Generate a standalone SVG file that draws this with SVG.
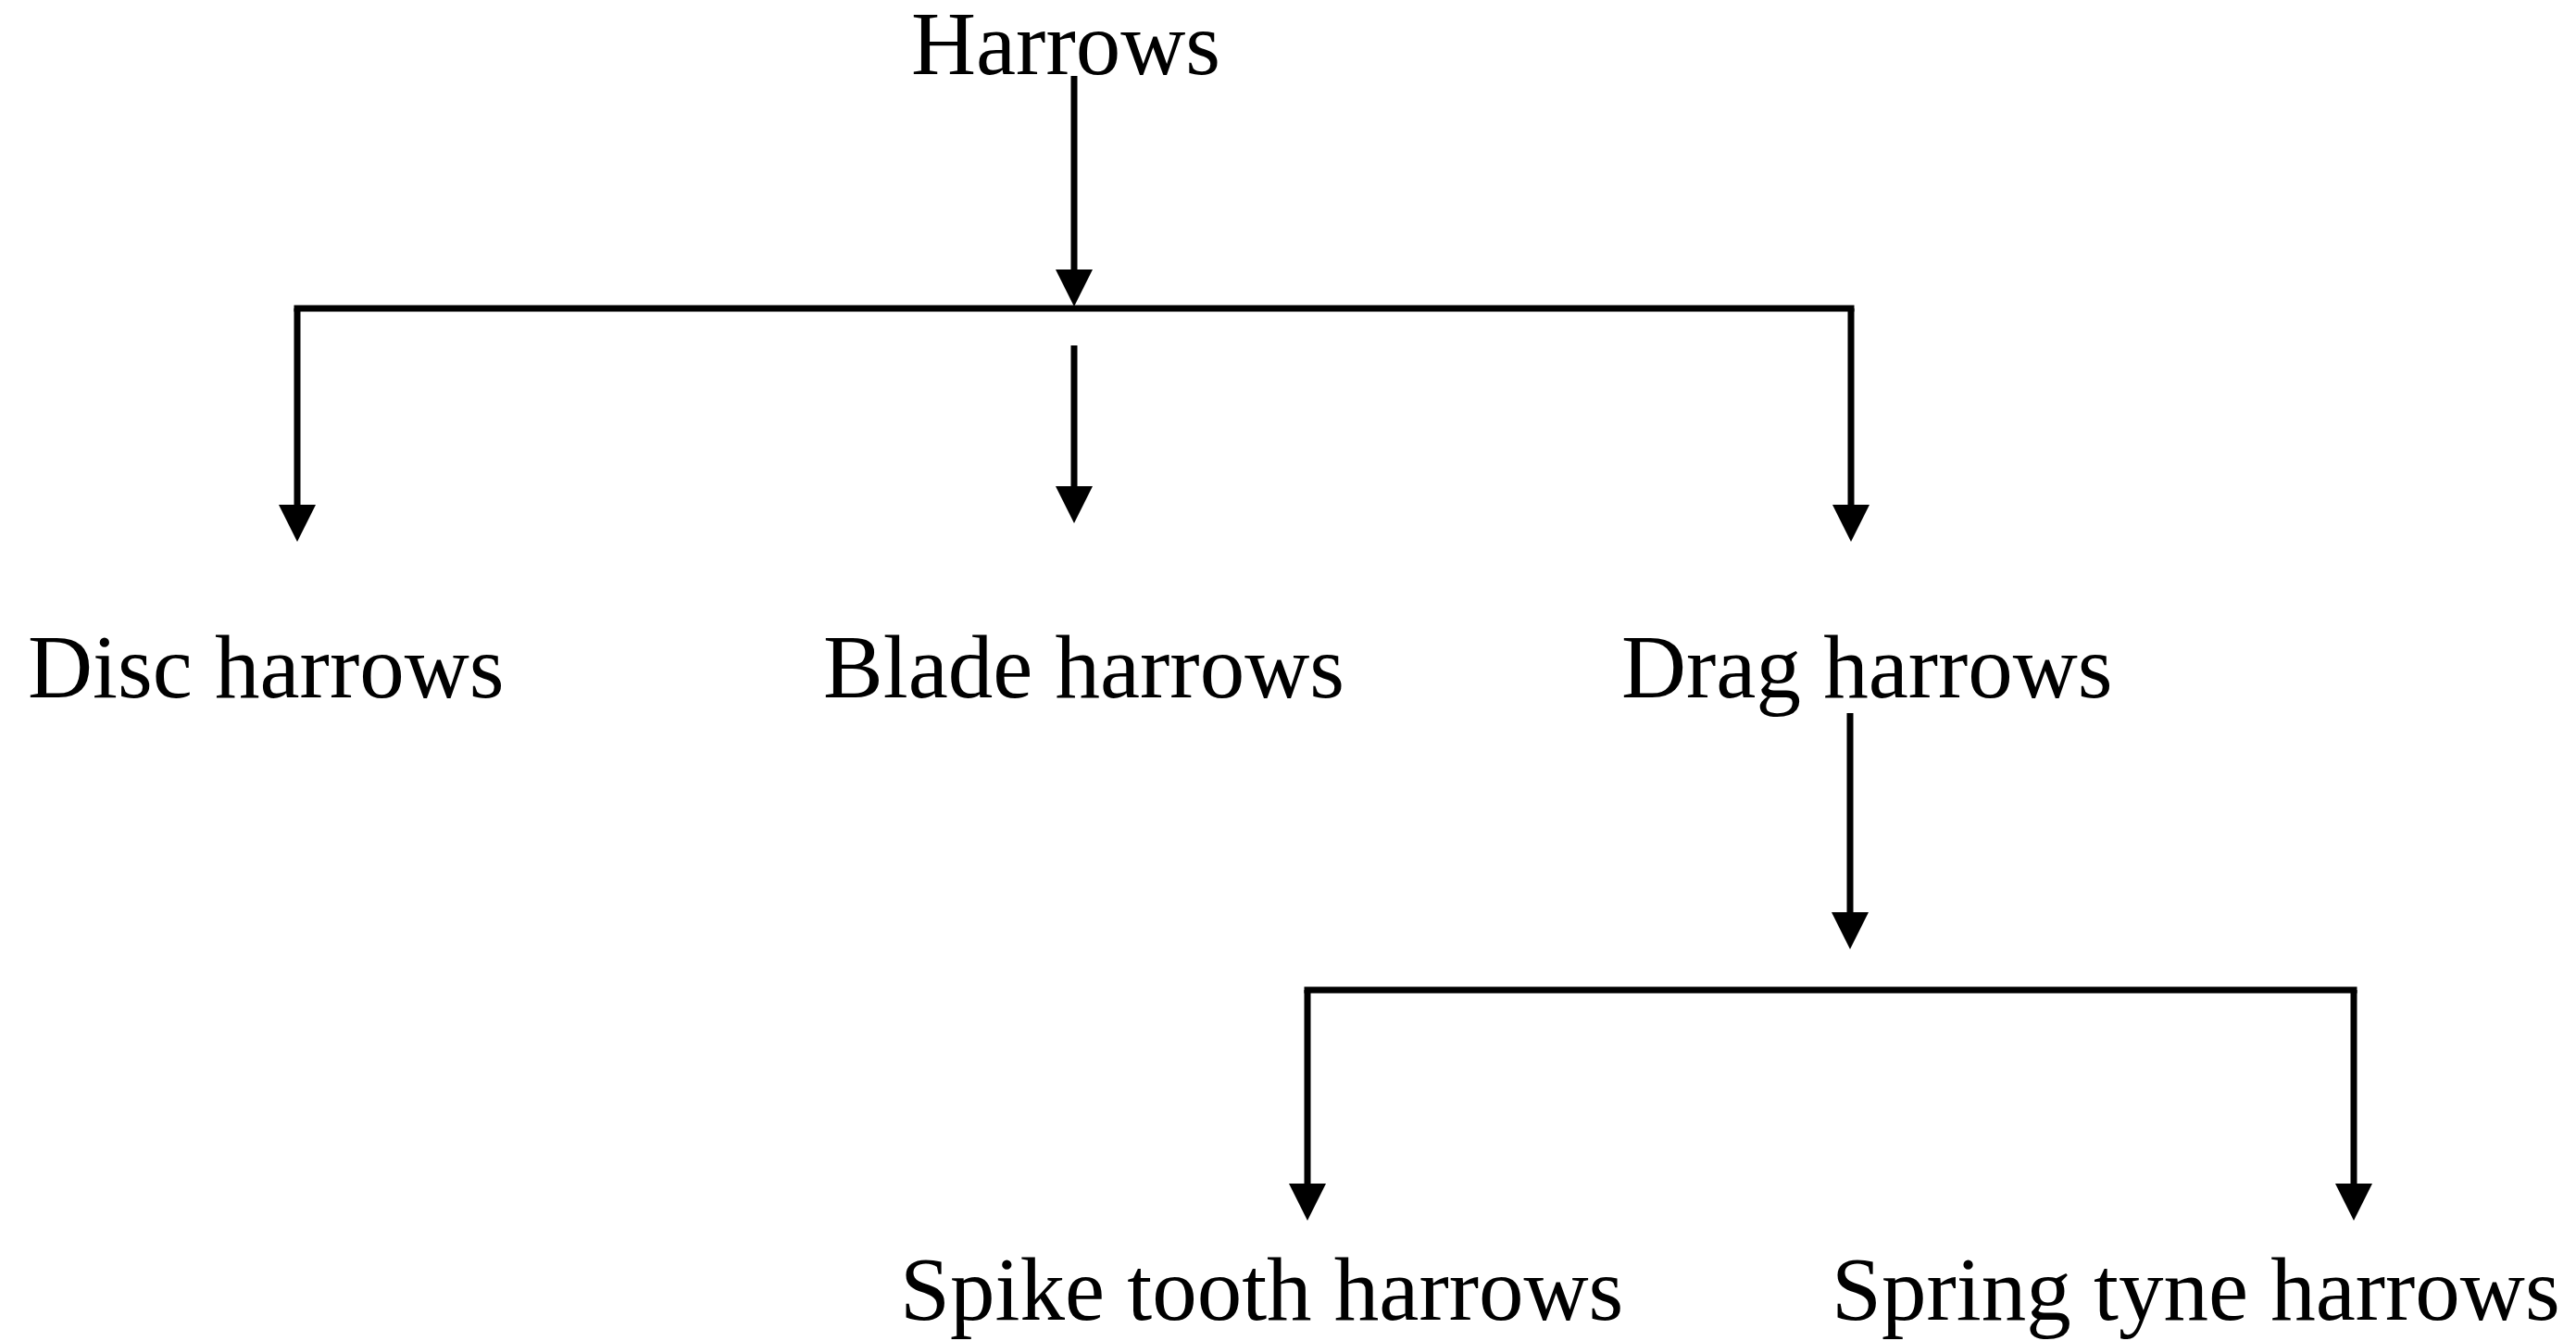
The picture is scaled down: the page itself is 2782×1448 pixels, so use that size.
<svg xmlns="http://www.w3.org/2000/svg" width="2782" height="1448" viewBox="0 0 2782 1448">
  <style>
    .lbl { font-family: "Liberation Serif", "Times New Roman", serif; font-size: 97px; fill: #000; }
    .ln { stroke: #000; stroke-width: 7; fill: none; stroke-linecap: butt; }
  </style>
  <defs>
    <marker id="arr" markerUnits="userSpaceOnUse" markerWidth="40" markerHeight="40" viewBox="0 -20 40 40" refX="0" refY="0" orient="auto" overflow="visible">
      <path d="M0,-20 L40,0 L0,20 z" fill="#000"/>
    </marker>
  </defs>
  <rect width="2782" height="1448" fill="#fff"/>
  <g id="connectors">
    <line class="ln" x1="1160" y1="82" x2="1160" y2="291" marker-end="url(#arr)"/>
    <line class="ln" x1="317.5" y1="333" x2="2002.5" y2="333"/>
    <line class="ln" x1="321" y1="333" x2="321" y2="545" marker-end="url(#arr)"/>
    <line class="ln" x1="1999" y1="333" x2="1999" y2="545" marker-end="url(#arr)"/>
    <line class="ln" x1="1160" y1="373" x2="1160" y2="525" marker-end="url(#arr)"/>
    <line class="ln" x1="1998" y1="770" x2="1998" y2="985" marker-end="url(#arr)"/>
    <line class="ln" x1="1408.5" y1="1069" x2="2545.5" y2="1069"/>
    <line class="ln" x1="1412" y1="1069" x2="1412" y2="1278" marker-end="url(#arr)"/>
    <line class="ln" x1="2542" y1="1069" x2="2542" y2="1278" marker-end="url(#arr)"/>
  </g>
  <g id="harrows"><text class="lbl" x="984" y="80">Harrows</text></g>
  <g id="disc"><text class="lbl" x="30" y="753">Disc harrows</text></g>
  <g id="blade"><text class="lbl" x="889" y="753">Blade harrows</text></g>
  <g id="drag"><text class="lbl" x="1751" y="753">Drag harrows</text></g>
  <g id="spike"><text class="lbl" x="972" y="1425">Spike tooth harrows</text></g>
  <g id="spring"><text class="lbl" x="1978" y="1425">Spring tyne harrows</text></g>
</svg>
